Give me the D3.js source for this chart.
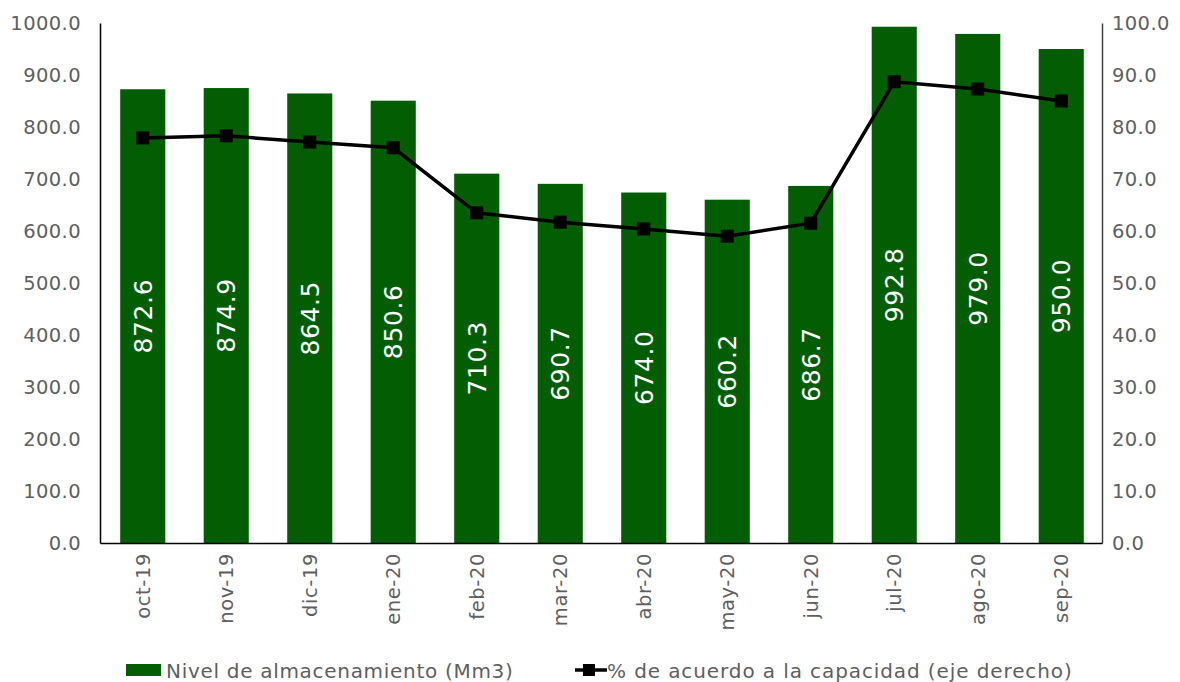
<!DOCTYPE html>
<html><head><meta charset="utf-8">
<script src="https://cdn.jsdelivr.net/npm/d3@7"></script>
<style>body{margin:0;background:#fff}svg{display:block}</style>
</head><body>
<svg id="c" width="1180" height="682"></svg>
<script>
const categories = ["oct-19","nov-19","dic-19","ene-20","feb-20","mar-20","abr-20","may-20","jun-20","jul-20","ago-20","sep-20"];
const storage = [872.6,874.9,864.5,850.6,710.3,690.7,674.0,660.2,686.7,992.8,979.0,950.0];
const pctCapacity = [77.9,78.3,77.1,76.0,63.5,61.7,60.4,59.0,61.5,88.7,87.3,85.0];
const leftTicks = [0,100,200,300,400,500,600,700,800,900,1000];
const rightTicks = [0,10,20,30,40,50,60,70,80,90,100];
const seriesNames = ["Nivel de almacenamiento (Mm3)","% de acuerdo a la capacidad (eje derecho)"];

const svg = d3.select("#c");
const font = "'DejaVu Sans', sans-serif";
const m = {l:100, r:1102, t:23, b:543};
const x = d3.scaleBand().domain(categories).range([m.l, m.r]).paddingInner(0.46).paddingOuter(0.23);
const yL = d3.scaleLinear().domain([0,1000]).range([m.b, m.t]);
const yR = d3.scaleLinear().domain([0,100]).range([m.b, m.t]);
const green = "#035E03", gray = "#5f5f5f";

// bars
svg.selectAll("rect.bar").data(storage).join("rect").attr("class","bar")
  .attr("x",(d,i)=>x(categories[i])+1).attr("width",x.bandwidth())
  .attr("y",d=>yL(d)).attr("height",d=>yL(0)-yL(d)).attr("fill",green);

// axes
const axL = svg.append("g").attr("transform",`translate(${m.l},0)`)
  .call(d3.axisLeft(yL).tickValues(leftTicks).tickFormat(d3.format(".1f")).tickSize(0).tickPadding(19));
const axR = svg.append("g").attr("transform",`translate(${m.r},0)`)
  .call(d3.axisRight(yR).tickValues(rightTicks).tickFormat(d3.format(".1f")).tickSize(0).tickPadding(10));
const axB = svg.append("g").attr("transform",`translate(0,${m.b})`)
  .call(d3.axisBottom(x).tickSize(0).tickPadding(10));
[axL,axR].forEach(a=>a.selectAll("text").attr("font-family",font).attr("font-size",19.5)
  .attr("letter-spacing",0.4).attr("fill",gray));
axL.select(".domain").attr("stroke","#000").attr("stroke-width",1.5);
axR.select(".domain").attr("stroke","#404040").attr("stroke-width",1.5);
axB.select(".domain").attr("stroke","#000").attr("stroke-width",1.5);
axB.selectAll("text").attr("font-family",font).attr("font-size",19.5).attr("letter-spacing",0.6).attr("fill",gray)
  .attr("transform","rotate(-90)").attr("text-anchor","end").attr("dy","0.35em")
  .attr("x",-10).attr("y",1);

// value labels
svg.selectAll("text.val").data(storage).join("text").attr("class","val")
  .attr("transform",(d,i)=>`translate(${x(categories[i])+1+x.bandwidth()/2},${(yL(d)+yL(0))/2}) rotate(-90)`)
  .attr("text-anchor","middle").attr("dy","0.36em")
  .attr("font-family",font).attr("font-size",25).attr("letter-spacing",0.6).attr("fill","#fff")
  .text(d=>d3.format(".1f")(d));

// line
const cx = i => x(categories[i]) + 1 + x.bandwidth()/2;
svg.append("path").datum(pctCapacity)
  .attr("d", d3.line().x((d,i)=>cx(i)).y(d=>yR(d)))
  .attr("fill","none").attr("stroke","#000").attr("stroke-width",3.5);
svg.selectAll("rect.mk").data(pctCapacity).join("rect").attr("class","mk")
  .attr("x",(d,i)=>cx(i)-6.5).attr("y",d=>yR(d)-6.5).attr("width",13).attr("height",13).attr("fill","#000");

// legend
const lg = svg.append("g");
lg.append("rect").attr("x",126).attr("y",664).attr("width",35).attr("height",12).attr("fill",green);
lg.append("text").attr("x",166).attr("y",671).attr("dy","0.35em").attr("font-family",font)
  .attr("font-size",20).attr("letter-spacing",0.7).attr("fill",gray).text(seriesNames[0]);
lg.append("line").attr("x1",575).attr("x2",607).attr("y1",670).attr("y2",670).attr("stroke","#000").attr("stroke-width",3.5);
lg.append("rect").attr("x",583).attr("y",664).attr("width",12).attr("height",12).attr("fill","#000");
lg.append("text").attr("x",607).attr("y",671).attr("dy","0.35em").attr("font-family",font)
  .attr("font-size",20).attr("letter-spacing",0.9).attr("fill",gray).text(seriesNames[1]);
</script>
</body></html>
